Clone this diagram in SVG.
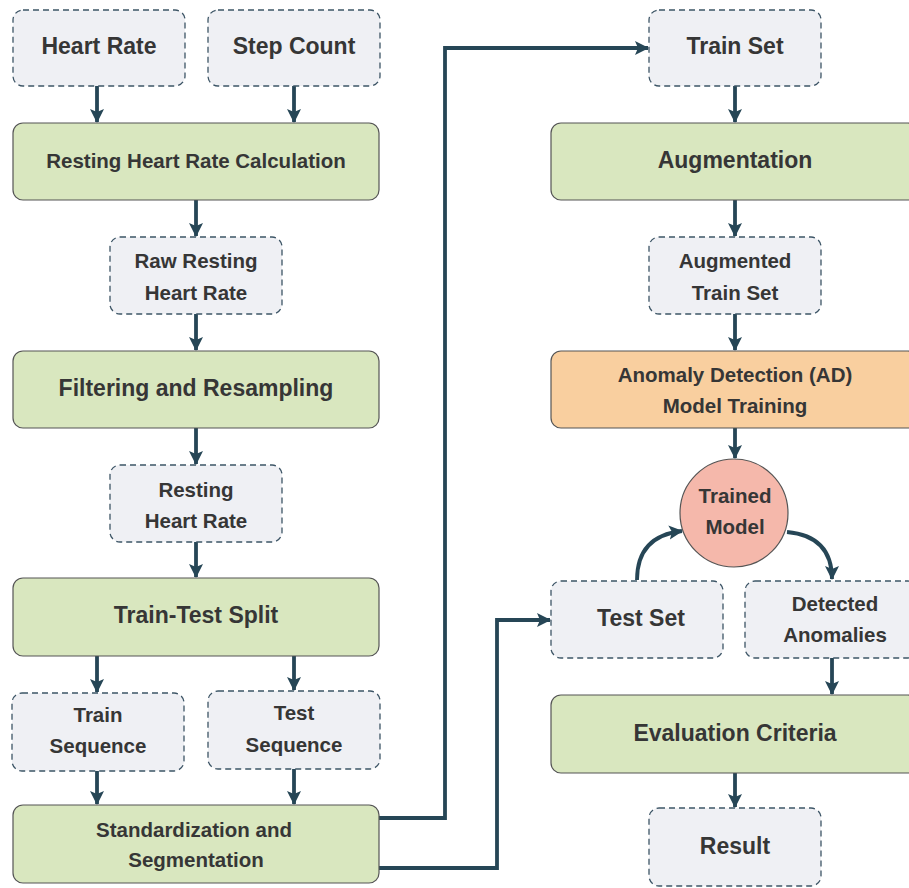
<svg xmlns="http://www.w3.org/2000/svg" width="909" height="888" viewBox="0 0 909 888">
<defs>
<marker id="ah" markerUnits="userSpaceOnUse" markerWidth="16" markerHeight="16" refX="13" refY="8" orient="auto">
<path d="M0,1 L14,8 L0,15 L3,8 z" fill="#264656"/>
</marker>
<style>
.d{fill:#eff0f4;stroke:#3d5566;stroke-width:1.3;stroke-dasharray:6 4}
.g{fill:#d9e7bf;stroke:#555;stroke-width:1.2}
.o{fill:#f9cf9f;stroke:#555;stroke-width:1.2}
.c{fill:#f5b8ab;stroke:#555;stroke-width:1.2}
text{font-family:"Liberation Sans",Arial,sans-serif;font-weight:bold;fill:#363636;text-anchor:middle}
.L{font-size:23px}
.S{font-size:20.5px}
.e{fill:none;stroke:#264656;stroke-width:3.8;marker-end:url(#ah)}
</style>
</defs>
<rect width="909" height="888" fill="#fff"/>
<g id="edges">
<path class="e" d="M97,86 V122"/>
<path class="e" d="M294,86 V122"/>
<path class="e" d="M196,200 V236"/>
<path class="e" d="M196,314 V350"/>
<path class="e" d="M196,428 V464"/>
<path class="e" d="M196,542 V577"/>
<path class="e" d="M97,656 V692"/>
<path class="e" d="M294,656 V690"/>
<path class="e" d="M97,771 V804"/>
<path class="e" d="M294,769 V804"/>
<path class="e" d="M379,818 H445 V48 H648"/>
<path class="e" d="M379,868 H497 V620 H550"/>
<path class="e" d="M735,86 V122"/>
<path class="e" d="M735,200 V236"/>
<path class="e" d="M735,314 V350"/>
<path class="e" d="M735,428 V458"/>
<path class="e" d="M637,580 Q637,536 682,531"/>
<path class="e" d="M787,532 Q832,536 832,579"/>
<path class="e" d="M832,658 V694"/>
<path class="e" d="M735,773 V807"/>
</g>
<g id="heart_rate"><rect class="d" x="13" y="10" width="172" height="76" rx="10"/><text class="L" x="99" y="54">Heart Rate</text></g>
<g id="step_count"><rect class="d" x="208" y="10" width="172" height="76" rx="10"/><text class="L" x="294" y="54">Step Count</text></g>
<g id="rhr_calc"><rect class="g" x="13" y="123" width="366" height="77" rx="10"/><text class="S" x="196" y="168">Resting Heart Rate Calculation</text></g>
<g id="raw_rhr"><rect class="d" x="110" y="237" width="172" height="77" rx="10"/><text class="S" x="196" y="268">Raw Resting</text><text class="S" x="196" y="300">Heart Rate</text></g>
<g id="filtering"><rect class="g" x="13" y="351" width="366" height="77" rx="10"/><text class="L" x="196" y="396">Filtering and Resampling</text></g>
<g id="rhr"><rect class="d" x="110" y="465" width="172" height="77" rx="10"/><text class="S" x="196" y="497">Resting</text><text class="S" x="196" y="528">Heart Rate</text></g>
<g id="split"><rect class="g" x="13" y="578" width="366" height="78" rx="10"/><text class="L" x="196" y="623">Train-Test Split</text></g>
<g id="train_seq"><rect class="d" x="12" y="693" width="172" height="78" rx="10"/><text class="S" x="98" y="722">Train</text><text class="S" x="98" y="753">Sequence</text></g>
<g id="test_seq"><rect class="d" x="208" y="691" width="172" height="78" rx="10"/><text class="S" x="294" y="720">Test</text><text class="S" x="294" y="752">Sequence</text></g>
<g id="standardization"><rect class="g" x="13" y="805" width="366" height="78" rx="10"/><text class="S" x="194" y="837">Standardization and</text><text class="S" x="196" y="867">Segmentation</text></g>
<g id="train_set"><rect class="d" x="649" y="10" width="172" height="76" rx="10"/><text class="L" x="735" y="54">Train Set</text></g>
<g id="augmentation"><rect class="g" x="551" y="123" width="367" height="77" rx="10"/><text class="L" x="735" y="168">Augmentation</text></g>
<g id="augmented"><rect class="d" x="649" y="237" width="172" height="77" rx="10"/><text class="S" x="735" y="268">Augmented</text><text class="S" x="735" y="300">Train Set</text></g>
<g id="ad_training"><rect class="o" x="551" y="351" width="367" height="77" rx="10"/><text class="S" x="735" y="382">Anomaly Detection (AD)</text><text class="S" x="735" y="413">Model Training</text></g>
<g id="trained_model"><circle class="c" cx="734" cy="513" r="54"/><text class="S" x="735" y="503">Trained</text><text class="S" x="735" y="534">Model</text></g>
<g id="test_set"><rect class="d" x="551" y="581" width="172" height="77" rx="10"/><text class="L" x="641" y="626">Test Set</text></g>
<g id="detected"><rect class="d" x="745" y="581" width="173" height="77" rx="10"/><text class="S" x="835" y="611">Detected</text><text class="S" x="835" y="642">Anomalies</text></g>
<g id="evaluation"><rect class="g" x="551" y="695" width="367" height="78" rx="10"/><text class="L" x="735" y="741">Evaluation Criteria</text></g>
<g id="result"><rect class="d" x="649" y="808" width="172" height="78" rx="10"/><text class="L" x="735" y="854">Result</text></g>
</svg>
